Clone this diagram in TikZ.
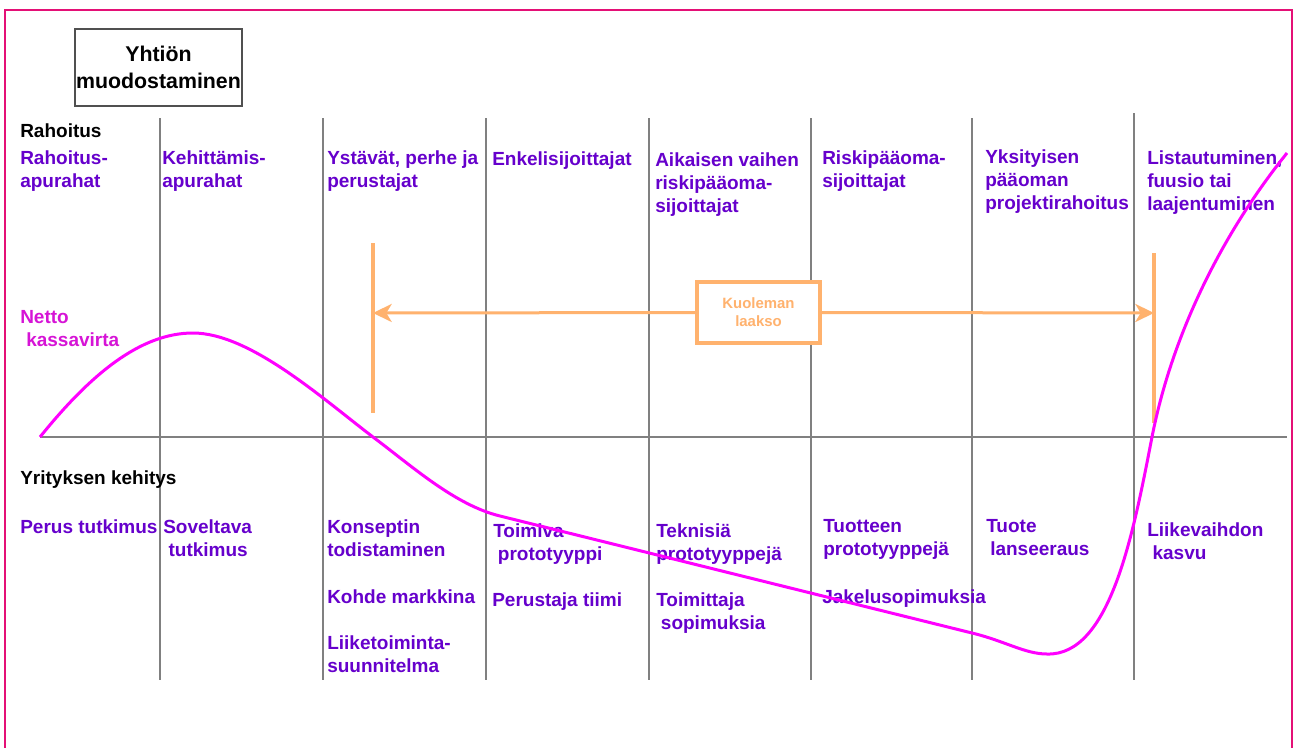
\documentclass[tikz,border=0pt]{standalone}
\usepackage{fontspec}
\setmainfont{Liberation Sans}
\usetikzlibrary{arrows.meta}
\definecolor{framec}{RGB}{228,16,118}
\definecolor{purp}{RGB}{102,0,204}
\definecolor{magc}{RGB}{255,0,255}
\definecolor{netc}{RGB}{214,20,214}
\definecolor{orng}{RGB}{255,178,110}
\definecolor{gridc}{RGB}{128,128,128}
\definecolor{boxc}{RGB}{80,80,80}
\tikzset{
  lbl/.style={anchor=north west, inner sep=0pt, align=left, text=purp,
    font=\bfseries\fontsize{14.25}{17.25}\selectfont},
  hdr/.style={lbl, text=black},
  netlbl/.style={lbl, text=netc},
  gridline/.style={draw=gridc, line width=1.4pt},
  orngbar/.style={draw=orng, line width=2.4pt},
  orngarrow/.style={draw=orng, line width=2.25pt, -{Stealth[length=14pt,width=13.5pt,inset=4pt]}},
  curve/.style={draw=magc, line width=2.25pt},
}
\begin{document}
\begin{tikzpicture}[x=0.75pt,y=-0.75pt]
\useasboundingbox (0,0) rectangle (1296,747);
\clip (0,0) rectangle (1296,747);
\fill[white] (0,0) rectangle (1296,747);
% frame
\draw[framec, line width=1.5pt] (5,10) rectangle (1292,770);

% title box
\node[draw=boxc, line width=1.4pt, minimum width=125.25pt, minimum height=57.75pt,
      inner sep=0pt, align=center, font=\bfseries\fontsize{16}{20}\selectfont]
      (title) at (158.5,67.5) {Yhtiön\\muodostaminen};

% grid
\foreach \gx/\gt in {160/118,323/118,486/118,649/118,811/118,972/118,1134/113}
  \draw[gridline] (\gx,\gt) -- (\gx,680);
\coordinate (axL) at (40,437);
\coordinate (axR) at (1287,437);
\draw[gridline] (axL) -- (axR);

% headings
\node[hdr] (rah) at (20,123) {Rahoitus};
\node[hdr] (yk) at (20,470) {Yrityksen kehitys};

% financing row
\node[lbl] (f1) at (20,150) {Rahoitus-\\apurahat};
\node[lbl] (f2) at (162,150) {Kehittämis-\\apurahat};
\node[lbl] (f3) at (327,150) {Ystävät, perhe ja\\perustajat};
\node[lbl] (f4) at (492,151) {Enkelisijoittajat};
\node[lbl] (f5) at (655,152) {Aikaisen vaihen\\riskipääoma-\\sijoittajat};
\node[lbl] (f6) at (822,150) {Riskipääoma-\\sijoittajat};
\node[lbl] (f7) at (985,149) {Yksityisen\\pääoman\\projektirahoitus};
\node[lbl] (f8) at (1147,150) {Listautuminen,\\fuusio tai\\laajentuminen};

% net cash flow label
\node[netlbl] (net) at (20,310) {Netto\\\hspace*{4.5pt}kassavirta};

% development row
\node[lbl] (d1) at (20,519) {Perus tutkimus};
\node[lbl] (d2) at (163,519) {Soveltava\\\hspace*{4pt}tutkimus};
\node[lbl] (d3) at (327,519) {Konseptin\\todistaminen};
\node[lbl] (d3b) at (327,589) {Kohde markkina};
\node[lbl] (d3c) at (327,635) {Liiketoiminta-\\suunnitelma};
\node[lbl] (d4) at (493,523) {Toimiva\\\hspace*{3.5pt}prototyyppi};
\node[lbl] (d4b) at (492,592) {Perustaja tiimi};
\node[lbl] (d5) at (656,523) {Teknisiä\\prototyyppejä};
\node[lbl] (d5b) at (656,592) {Toimittaja\\\hspace*{3.5pt}sopimuksia};
\node[lbl] (d6) at (823,519) {Tuotteen\\prototyyppejä};
\node[lbl] (d6b) at (822,589) {Jakelusopimuksia};
\node[lbl] (d7) at (986,519) {Tuote\\\hspace*{3pt}lanseeraus};
\node[lbl] (d8) at (1147,522) {Liikevaihdon\\\hspace*{4pt}kasvu};

% valley of death
\coordinate (Lt) at (373,243);
\coordinate (Lb) at (373,413);
\coordinate (Lm) at (373,313);
\coordinate (Rt) at (1154,253);
\coordinate (Rb) at (1154,423);
\coordinate (Rm) at (1154,313);
\draw[orngbar] (Lt) -- (Lb);
\draw[orngbar] (Rt) -- (Rb);
\node[draw=orng, line width=2.4pt, fill=white, minimum width=92.25pt, minimum height=45.75pt,
      inner sep=0pt, align=center, text=orng, font=\bfseries\fontsize{11.2}{13.5}\selectfont]
      (kl) at (758.5,312.5) {Kuoleman\\laakso};
\draw[orngarrow] (kl.west) -- (Lm);
\draw[orngarrow] (kl.east) -- (Rm);

% net cash flow curve
\draw[curve] (40,437) .. controls (90,375) and (140,333) .. (193,333)
  .. controls (250,333) and (323,399) .. (373,437)
  .. controls (413,467) and (455,505) .. (500,516)
  -- (972,633)
  .. controls (1005,641) and (1025,654) .. (1047,654)
  .. controls (1110,656) and (1133,535) .. (1152,437)
  .. controls (1173,330) and (1225,230) .. (1287,153);
\end{tikzpicture}
\end{document}
